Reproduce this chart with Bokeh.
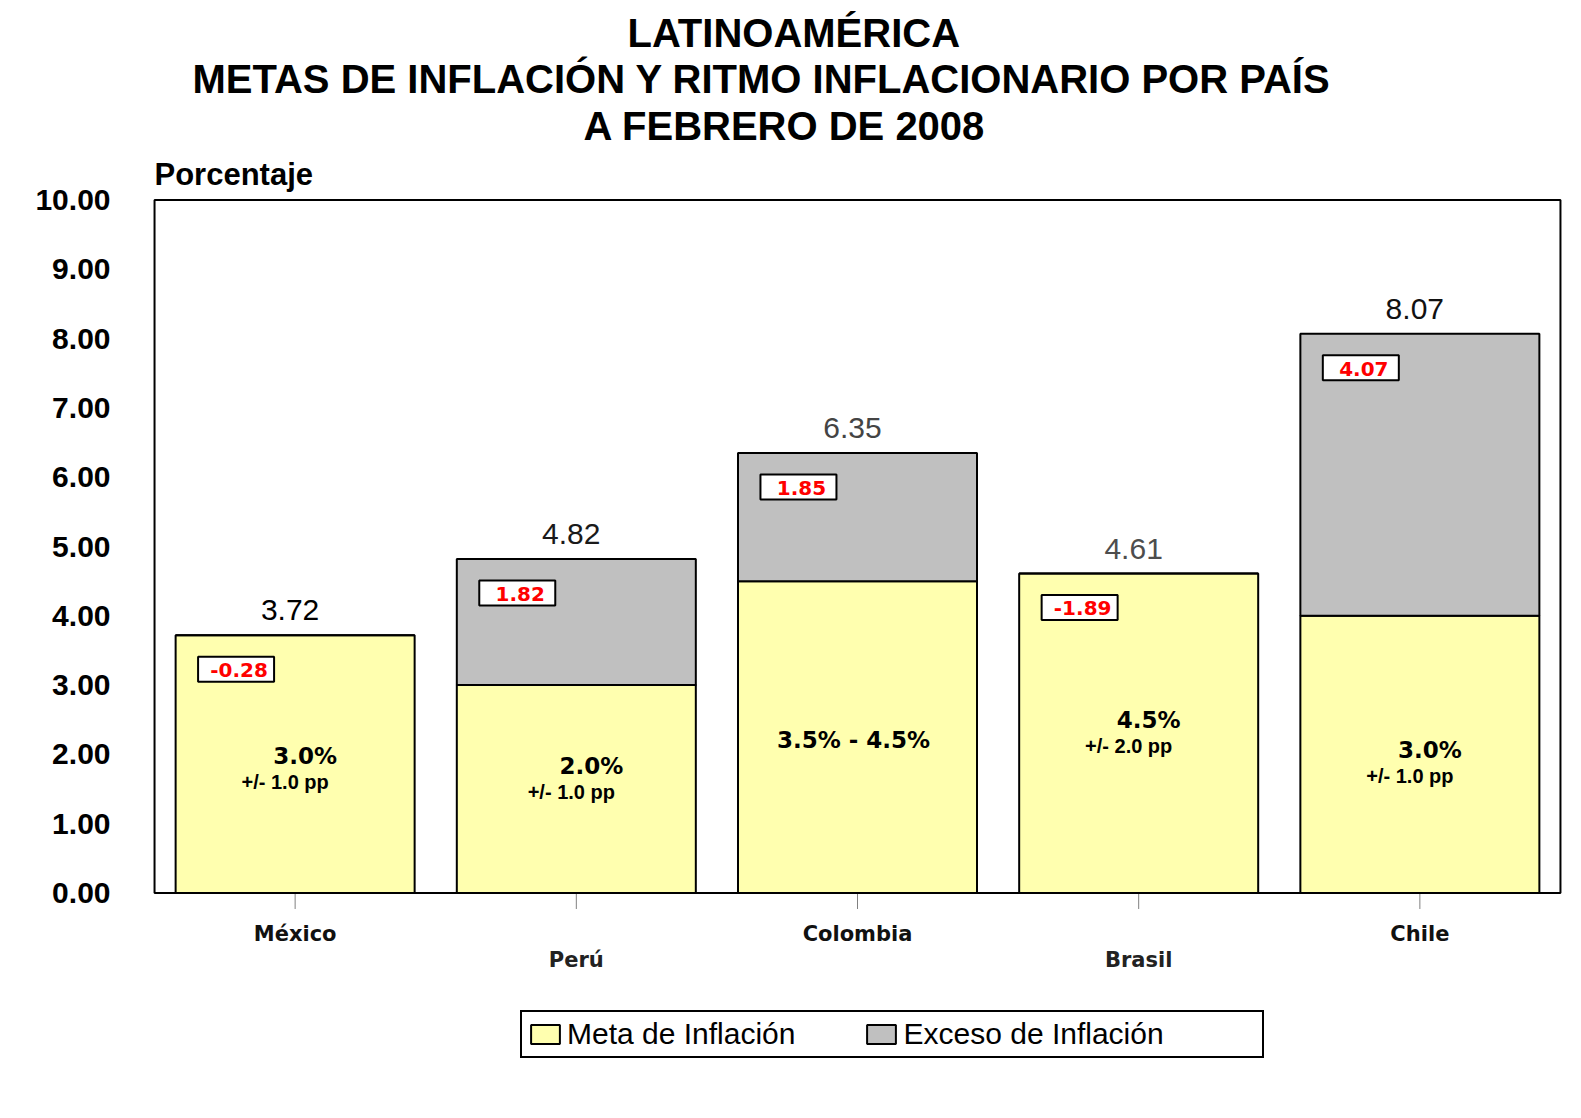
from bokeh.plotting import figure
from bokeh.models import (ColumnDataSource, FactorRange, Range1d, FixedTicker, Title,
                          NumeralTickFormatter, Legend, LegendItem, BoxAnnotation)
from bokeh.transform import dodge
from bokeh.core.properties import value
from bokeh.embed import file_html
from bokeh.resources import INLINE

# ---------------- data ----------------
paises = ["México", "Perú", "Colombia", "Brasil", "Chile"]
inflacion = [3.72, 4.82, 6.35, 4.61, 8.07]          # inflación anual observada
exceso = [-0.28, 1.82, 1.85, -1.89, 4.07]           # inflación - límite superior de la meta
meta_texto = ["3.0%", "2.0%", "3.5%  - 4.5%", "4.5%", "3.0%"]
rango_texto = ["+/- 1.0 pp", "+/- 1.0 pp", "", "+/- 2.0 pp", "+/- 1.0 pp"]
y_ticks = [0, 1, 2, 3, 4, 5, 6, 7, 8, 9, 10]
fila_etiqueta = [1, 2, 1, 2, 1]      # staggered category-label rows

# stacked segments derived from the data
exceso_seg = [round(max(e, 0.0), 2) for e in exceso]
meta_seg = [round(i - e, 2) for i, e in zip(inflacion, exceso_seg)]

# ---------------- layout (annotation placement only) ----------------
meta_label_y = [1.98, 1.835, 2.21, 2.49, 2.07]
meta_dx = [10, 15, 0, 10, 10]
rango_dx = [-10, -5, 0, -10, -10]
total_colors = ["#000000", "#1a1a1a", "#444444", "#4d4d4d", "#111111"]
row_dy = {1: 41, 2: 67}
row_col = {1: "#111111", 2: "#222222"}

YELLOW = "#FFFFAF"
GREY = "#C0C0C0"

src = ColumnDataSource(dict(
    pais=paises, meta=meta_seg, exc=exceso_seg, inflacion=inflacion,
    inf_txt=[f"{v:.2f}" for v in inflacion],
    exc_txt=[f"{v:.2f}" for v in exceso],
    meta_txt=meta_texto, rango_txt=rango_texto,
    meta_y=meta_label_y, meta_dx=meta_dx, rango_dx=rango_dx,
    tcol=total_colors,
    lab_dy=[row_dy[r] for r in fila_etiqueta],
    lab_col=[row_col[r] for r in fila_etiqueta],
))

# The frame extends below zero so that category labels and the legend sit inside it;
# the visible plot box (0..10) is drawn with a BoxAnnotation.
p = figure(frame_width=1410, frame_height=901,
           x_range=FactorRange(*paises, range_padding=0.0029, range_padding_units="percent"),
           y_range=Range1d(-2.98, 10.022),
           x_axis_location=None,
           output_backend="svg", toolbar_location=None, tools="",
           min_border_left=152, min_border_right=15, min_border_top=198, min_border_bottom=5)
p.title.visible = False
p.background_fill_color = "white"
p.border_fill_color = "white"
p.outline_line_color = None
p.xgrid.visible = False
p.ygrid.visible = False

rs = p.vbar_stack(["meta", "exc"], x="pais", width=0.85, source=src,
                  fill_color=[YELLOW, GREY], line_color="black", line_width=2)

# visible plot box
p.add_layout(BoxAnnotation(left=0, right=len(paises), bottom=0, top=10,
                           fill_color=None, fill_alpha=0,
                           line_color="black", line_width=2, line_alpha=1))

# category tick marks and staggered labels
p.ray(x="pais", y=0, length=16, length_units="screen", angle=-90, angle_units="deg",
      source=src, line_color="#808080", line_width=1)
p.text(x="pais", y=0, text="pais", source=src, y_offset="lab_dy",
       text_align="center", text_baseline="middle",
       text_font=value("DejaVu Sans"), text_font_style="bold", text_font_size="21px",
       text_color="lab_col")

# totals above bars
p.text(x=dodge("pais", -0.018, range=p.x_range), y="inflacion", text="inf_txt", source=src,
       y_offset=-25, text_align="center", text_baseline="middle",
       text_font=value("Liberation Sans"), text_font_size="30px", text_color="tcol")

# boxed excess labels
bx = dodge("pais", -0.21, range=p.x_range)
by = dodge("inflacion", -0.49)
p.rect(x=bx, y=by, width=76, height=25, width_units="screen", height_units="screen",
       source=src, fill_color="white", line_color="black", line_width=2)
p.text(x=bx, y=by, text="exc_txt", source=src, x_offset=3, y_offset=1,
       text_align="center", text_baseline="middle",
       text_font=value("DejaVu Sans"), text_font_style="bold", text_font_size="20px",
       text_color="#FF0000")

# target texts inside bars
p.text(x="pais", y="meta_y", text="meta_txt", source=src, x_offset="meta_dx",
       text_align="center", text_baseline="middle",
       text_font=value("DejaVu Sans"), text_font_style="bold", text_font_size="23px",
       text_color="black")
p.text(x="pais", y="meta_y", text="rango_txt", source=src, x_offset="rango_dx", y_offset=26,
       text_align="center", text_baseline="middle",
       text_font=value("Liberation Sans"), text_font_style="bold", text_font_size="20px",
       text_color="black")

# y axis
p.yaxis.ticker = FixedTicker(ticks=y_ticks)
p.yaxis.formatter = NumeralTickFormatter(format="0.00")
p.yaxis.axis_line_color = None
p.yaxis.major_tick_line_color = None
p.yaxis.major_tick_out = 0
p.yaxis.major_tick_in = 0
p.yaxis.minor_tick_line_color = None
p.yaxis.major_label_standoff = 42
p.yaxis.major_label_text_font = "Liberation Sans"
p.yaxis.major_label_text_font_style = "bold"
p.yaxis.major_label_text_font_size = "30px"
p.yaxis.major_label_text_color = "black"

legend = Legend(items=[LegendItem(label="Meta de Inflación", renderers=[rs[0]]),
                       LegendItem(label="Exceso de Inflación", renderers=[rs[1]])],
                location=(368, 41), orientation="horizontal",
                border_line_color="black", border_line_width=2, border_line_alpha=1,
                background_fill_color="white", background_fill_alpha=1,
                glyph_width=36, glyph_height=24, label_standoff=4, spacing=68,
                padding=5, margin=0,
                title=" ", title_location="right", title_standoff=78,
                label_text_font="Liberation Sans", label_text_font_size="30px",
                label_text_color="black")
p.add_layout(legend)

# titles: first added sits closest to the frame
for txt, off, size, so in [("Porcentaje", 2, "31px", 13),
                           ("A  FEBRERO DE 2008", 431, "40px", 2),
                           ("METAS DE INFLACIÓN Y RITMO INFLACIONARIO POR PAÍS", 40, "40px", 0),
                           ("LATINOAMÉRICA", 475, "40px", 0)]:
    p.add_layout(Title(text=txt, align="left", offset=off, standoff=so,
                       text_font="Liberation Sans", text_font_style="bold",
                       text_font_size=size, text_color="black"), "above")

open("out.html", "w").write(file_html(p, INLINE))
